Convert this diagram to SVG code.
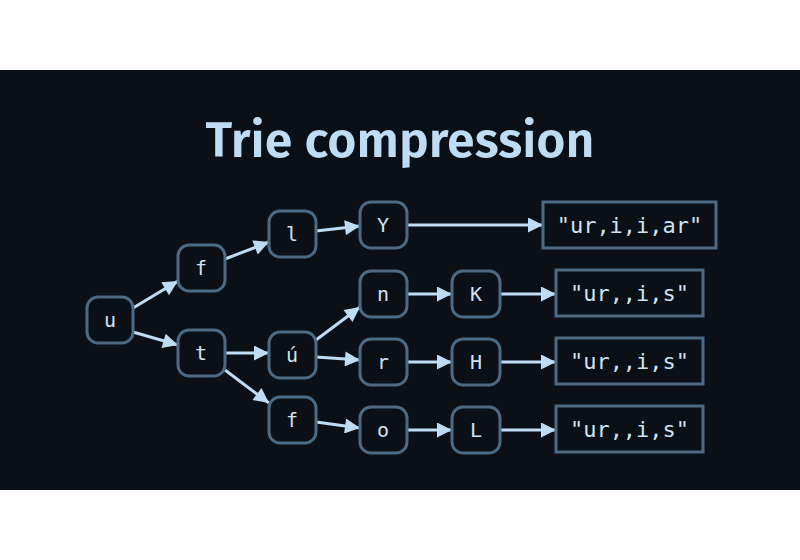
<svg xmlns="http://www.w3.org/2000/svg" width="800" height="560" viewBox="0 0 800 560">
<style>
.n rect{fill:#0b1017;stroke:#4b6a84;stroke-width:3}
.n text,.b text{fill:#d0e2f2;font-family:"DejaVu Sans Mono",monospace;font-size:20px;text-anchor:middle;dominant-baseline:central}
.b rect{fill:#0b1017;stroke:#4b6a84;stroke-width:3}
.b text{font-size:22px}
#edges line{stroke:#bfdcf5;stroke-width:3;marker-end:url(#a)}
</style>
<defs><marker id="a" viewBox="0 0 10 10" refX="10" refY="5" markerWidth="6" markerHeight="5" markerUnits="strokeWidth" orient="auto"><path d="M0,0L10,5L0,10z" fill="#bfdcf5"/></marker></defs>
<rect width="800" height="560" fill="#fff"/>
<rect y="70" width="800" height="420" fill="#0b0f16"/>
<text x="400" y="157" fill="#bfdcf5" font-family="'Fira Sans','Open Sans',sans-serif" font-size="50" font-weight="600" text-anchor="middle">Trie compression</text>
<g id="edges">
<line x1="133" y1="308" x2="178" y2="281"/>
<line x1="133" y1="332" x2="178" y2="345"/>
<line x1="225" y1="259" x2="269" y2="242"/>
<line x1="225" y1="353" x2="269" y2="353"/>
<line x1="225" y1="370" x2="269" y2="403"/>
<line x1="316" y1="231" x2="360" y2="226"/>
<line x1="316" y1="340" x2="360" y2="307"/>
<line x1="316" y1="357" x2="360" y2="360"/>
<line x1="316" y1="422" x2="360" y2="428"/>
<line x1="407" y1="225" x2="543" y2="225"/>
<line x1="407" y1="294" x2="452" y2="294"/>
<line x1="407" y1="362" x2="452" y2="362"/>
<line x1="407" y1="430" x2="452" y2="430"/>
<line x1="500" y1="294" x2="556" y2="294"/>
<line x1="500" y1="362" x2="556" y2="362"/>
<line x1="500" y1="430" x2="556" y2="430"/>
</g>
<g id="u" class="n"><rect x="87" y="297" width="46" height="46" rx="11"/><text x="110" y="320">u</text></g>
<g id="f1" class="n"><rect x="178" y="245" width="47" height="46" rx="11"/><text x="201" y="268">f</text></g>
<g id="t" class="n"><rect x="178" y="330" width="47" height="46" rx="11"/><text x="201" y="353">t</text></g>
<g id="l" class="n"><rect x="269" y="211" width="47" height="46" rx="11"/><text x="292" y="234">l</text></g>
<g id="u2" class="n"><rect x="269" y="332" width="47" height="46" rx="11"/><text x="292" y="355">ú</text></g>
<g id="f2" class="n"><rect x="269" y="397" width="47" height="46" rx="11"/><text x="292" y="420">f</text></g>
<g id="Y" class="n"><rect x="360" y="202" width="47" height="46" rx="11"/><text x="383" y="225">Y</text></g>
<g id="nn" class="n"><rect x="360" y="271" width="47" height="46" rx="11"/><text x="383" y="294">n</text></g>
<g id="r" class="n"><rect x="360" y="339" width="47" height="46" rx="11"/><text x="383" y="362">r</text></g>
<g id="o" class="n"><rect x="360" y="407" width="47" height="46" rx="11"/><text x="383" y="430">o</text></g>
<g id="K" class="n"><rect x="452" y="271" width="48" height="46" rx="11"/><text x="476" y="294">K</text></g>
<g id="H" class="n"><rect x="452" y="339" width="48" height="46" rx="11"/><text x="476" y="362">H</text></g>
<g id="L" class="n"><rect x="452" y="407" width="48" height="46" rx="11"/><text x="476" y="430">L</text></g>
<g id="s1" class="b"><rect x="543" y="202" width="173" height="46"/><text x="629.5" y="225">"ur,i,i,ar"</text></g>
<g id="s2" class="b"><rect x="556" y="270" width="147" height="46"/><text x="629.5" y="293">"ur,,i,s"</text></g>
<g id="s3" class="b"><rect x="556" y="338" width="147" height="46"/><text x="629.5" y="361">"ur,,i,s"</text></g>
<g id="s4" class="b"><rect x="556" y="406" width="147" height="46"/><text x="629.5" y="429">"ur,,i,s"</text></g>
</svg>
